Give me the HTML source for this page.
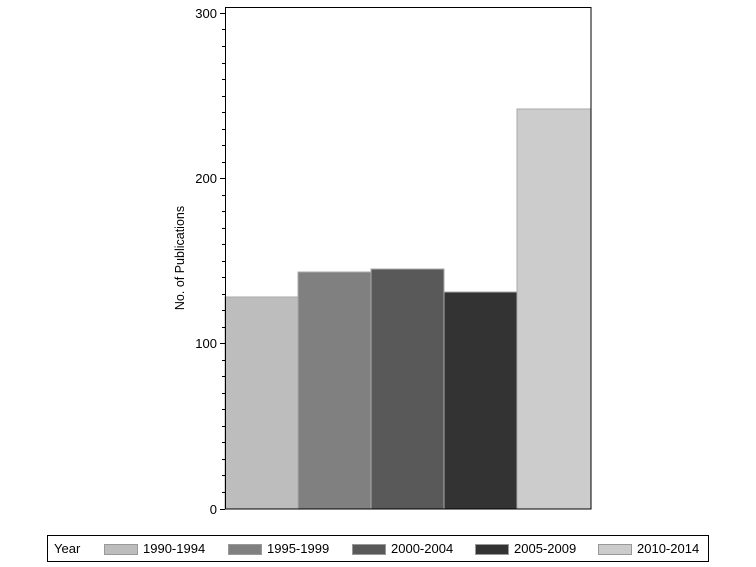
<!DOCTYPE html>
<html><head><meta charset="utf-8"><style>html,body{margin:0;padding:0;background:#fff}svg{display:block}</style></head>
<body>
<svg width="756" height="567" viewBox="0 0 756 567" xmlns="http://www.w3.org/2000/svg" font-family="Liberation Sans, sans-serif">
<rect width="756" height="567" fill="#fff"/>
<g stroke="#aaa" stroke-width="1">
<rect x="225" y="297" width="73" height="212" fill="#bdbdbd"/>
<rect x="298" y="272" width="73" height="237" fill="#808080"/>
<rect x="371" y="269" width="73" height="240" fill="#595959"/>
<rect x="444" y="292" width="73" height="217" fill="#333333"/>
<rect x="517" y="109" width="74" height="400" fill="#cccccc"/>
</g>
<rect x="225.5" y="7.5" width="365.5" height="501.5" fill="none" stroke="#000" stroke-width="1"/>
<path stroke="#000" stroke-width="1" fill="none" d="M220 509.5H225 M222 492.5H225 M222 475.5H225 M222 459.5H225 M222 442.5H225 M222 426.5H225 M222 409.5H225 M222 393.5H225 M222 376.5H225 M222 360.5H225 M220 343.5H225 M222 327.5H225 M222 310.5H225 M222 294.5H225 M222 277.5H225 M222 261.5H225 M222 244.5H225 M222 228.5H225 M222 211.5H225 M222 195.5H225 M220 178.5H225 M222 162.5H225 M222 145.5H225 M222 129.5H225 M222 112.5H225 M222 96.5H225 M222 79.5H225 M222 63.5H225 M222 46.5H225 M222 29.5H225 M220 13.5H225"/>
<g font-size="13" fill="#000" text-anchor="end">
<text x="217" y="514">0</text>
<text x="217" y="348">100</text>
<text x="217" y="183">200</text>
<text x="217" y="18">300</text>
</g>
<text x="0" y="0" font-size="12.5" text-anchor="middle" transform="translate(184,258) rotate(-90)">No. of Publications</text>
<rect x="47.5" y="535.5" width="661" height="26" fill="none" stroke="#000"/>
<g font-size="13" fill="#000">
<text x="54" y="553">Year</text>
<g stroke="#999">
<rect x="104.5" y="544.5" width="33" height="10" fill="#bdbdbd"/>
<rect x="228.5" y="544.5" width="33" height="10" fill="#808080"/>
<rect x="352.5" y="544.5" width="33" height="10" fill="#595959"/>
<rect x="475.5" y="544.5" width="33" height="10" fill="#333333"/>
<rect x="598.5" y="544.5" width="33" height="10" fill="#cccccc"/>
</g>
<text x="143" y="553">1990-1994</text>
<text x="267" y="553">1995-1999</text>
<text x="391" y="553">2000-2004</text>
<text x="514" y="553">2005-2009</text>
<text x="637" y="553">2010-2014</text>
</g>
</svg>
</body></html>
